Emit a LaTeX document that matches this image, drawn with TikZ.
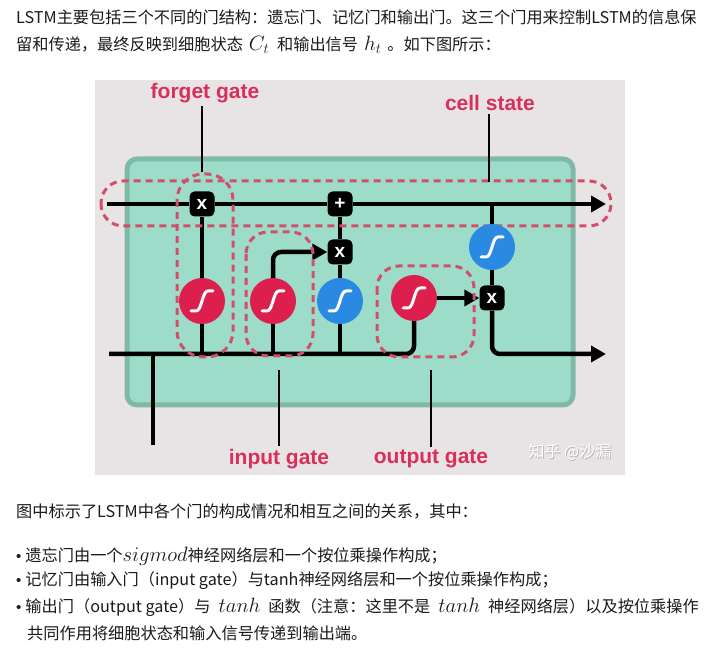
\documentclass[tikz,border=0pt]{standalone}
\usepackage{fontspec}
\setmainfont{Liberation Sans}
\newfontfamily\cjk{Noto Sans CJK SC}
\usetikzlibrary{arrows.meta}
\definecolor{bgg}{HTML}{E8E4E6}
\definecolor{cellg}{HTML}{9EDCCA}
\definecolor{cellb}{HTML}{80B9A8}
\definecolor{gred}{HTML}{DD1F4E}
\definecolor{gblue}{HTML}{2A8AE2}
\definecolor{dashc}{HTML}{D24F6B}
\definecolor{labc}{HTML}{D8305A}
\definecolor{txt}{HTML}{1A1A1A}
\pgfdeclarelayer{back}
\pgfsetlayers{back,main}
\tikzset{
  sig/.style={circle, fill=gred, minimum size=46pt, inner sep=0pt},
  tnh/.style={circle, fill=gblue, minimum size=46pt, inner sep=0pt},
  opbox/.style={rectangle, rounded corners=5pt, fill=black, minimum size=25pt, inner sep=0pt, text=white, font=\bfseries\fontsize{19}{19}\selectfont},
  flow/.style={line width=4.5pt, draw=black},
  arr/.style={-{Triangle[length=15pt,width=16pt]}},
  gatedash/.style={draw=dashc, line width=3pt, dash pattern=on 7pt off 5pt, rounded corners=22pt},
  lab/.style={text=labc, font=\bfseries\fontsize{21}{21}\selectfont, inner sep=3pt},
  pointer/.style={line width=1.2pt, draw=black},
  para/.style={anchor=west, inner sep=0pt, text=txt, font=\cjk\fontsize{16.2}{16.2}\selectfont},
  scurve/.pic={\draw[white, line width=3pt, line cap=round] (-11,10) -- (-6,10) .. controls (0,10) and (0,-10) .. (6,-10) -- (11,-10);}
}
\newcommand{\mth}[1]{{\fontsize{20}{20}\selectfont$#1$}}
\newcommand{\bul}{{\rmfamily\fontsize{15}{15}\selectfont •}\hspace{4pt}}
\begin{document}
\begin{tikzpicture}[x=1pt,y=-1pt]
\useasboundingbox (0,0) rectangle (716,660);

% ---------- gates ----------
\node[sig] (s1) at (202,301) {};
\node[sig] (s2) at (273,301) {};
\node[tnh] (t1) at (340,301) {};
\node[sig] (s3) at (414,298) {};
\node[tnh] (t2) at (492,247) {};
\node[opbox] (fx) at (202,204) {x};
\node[opbox] (px) at (340,204) {+};
\node[opbox] (ix) at (340,252) {x};
\node[opbox] (ox) at (492,298) {x};
\foreach \n in {s1,s2,t1,s3,t2} { \pic at (\n.center) {scurve}; }

\coordinate (cin) at (107,204);
\coordinate (cj) at (492,204);
\coordinate (cout) at (606,204);
\coordinate (xin) at (109,354);
\coordinate (b0) at (153,354);
\coordinate (xbot) at (153,445);
\coordinate (b1) at (202,354);
\coordinate (b2) at (273,354);
\coordinate (b3) at (340,354);
\coordinate (hout) at (606,354);

\begin{pgfonlayer}{back}
\fill[white] (0,0) rectangle (716,660);
\fill[bgg] (95,80) rectangle (625,475);
\filldraw[fill=cellg, draw=cellb, line width=5pt, rounded corners=10pt] (127,159) rectangle (573,405);
% flows
\draw[flow] (cin) -- (fx);
\draw[flow] (fx) -- (px);
\draw[flow, arr] (px) -- (cout);
\draw[flow] (cj) -- (t2);
\draw[flow] (t2) -- (ox);
\draw[flow, arr, rounded corners=8pt] (ox) |- (hout);
\draw[flow, rounded corners=8pt] (xin) -| (s3);
\draw[flow] (b0) -- (xbot);
\draw[flow] (fx) -- (s1);
\draw[flow] (s1) -- (b1);
\draw[flow] (b2) -- (s2);
\draw[flow, arr, rounded corners=8pt] (s2) |- (ix);
\draw[flow] (b3) -- (t1);
\draw[flow] (t1) -- (ix);
\draw[flow] (ix) -- (px);
\draw[flow, arr] (s3) -- (ox);
% dashed gate outlines
\draw[gatedash] (101,181) rectangle (611,226);
\draw[gatedash, rounded corners=26pt] (177,174) rectangle (233,357);
\draw[gatedash] (246,232) rectangle (313,356);
\draw[gatedash] (377,266) rectangle (474,357);
\end{pgfonlayer}

% ---------- labels ----------
\node[lab] (lf) at (205,93) {forget gate};
\node[lab] (lc) at (490,103) {cell state};
\node[lab] (li) at (279,459) {input gate};
\node[lab] (lo) at (431,459) {output gate};
\coordinate (pf) at (202,172);
\coordinate (pc) at (489,182);
\coordinate (pi) at (279,370);
\coordinate (po) at (431,370);
\draw[pointer] (pf |- lf.south) -- (pf);
\draw[pointer] (pc |- lc.south) -- (pc);
\draw[pointer] (pi |- li.north) -- (pi);
\draw[pointer] (po |- lo.north) -- (po);

% watermark
\node[text=black!30, font=\cjk\fontsize{16}{16}\selectfont] (wms) at (570.8,452.8) {知乎 @沙漏};
\node[text=white, font=\cjk\fontsize{16}{16}\selectfont] (wm) at (570,452) {知乎 @沙漏};

% ---------- text ----------
\node[para] (t01) at (16,17) {LSTM主要包括三个不同的门结构：遗忘门、记忆门和输出门。这三个门用来控制LSTM的信息保};
\node[para] (t02) at (16,45) {留和传递，最终反映到细胞状态\hspace{6pt}\mth{C_t}\hspace{8pt}和输出信号\hspace{6pt}\mth{h_t}\hspace{6pt}。如下图所示：};
\node[para] (t03) at (16,511) {图中标示了LSTM中各个门的构成情况和相互之间的关系，其中：};
\node[para] (t04) at (16,556) {\bul 遗忘门由一个\mth{sigmod}神经网络层和一个按位乘操作构成；};
\node[para] (t05) at (16,581) {\bul 记忆门由输入门（input gate）与tanh神经网络层和一个按位乘操作构成；};
\node[para] (t06) at (16,607) {\bul 输出门（output gate）与\hspace{8pt}\mth{tanh}\hspace{8pt}函数（注意：这里不是\hspace{8pt}\mth{tanh}\hspace{8pt}神经网络层）以及按位乘操作};
\node[para] (t07) at (27,633) {共同作用将细胞状态和输入信号传递到输出端。};
\end{tikzpicture}
\end{document}
